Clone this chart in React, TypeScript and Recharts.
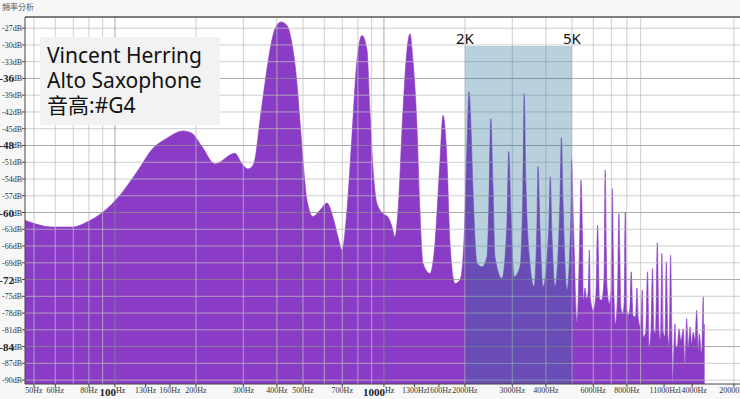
import React from 'react'
import {
  ComposedChart,
  Area,
  XAxis,
  YAxis,
  CartesianGrid,
  ReferenceLine,
  ReferenceArea,
  ReferenceDot,
} from 'recharts'

// spectrum as [Hz, dB]
const lowSpectrum: [number, number][] = [
  [46.3, -61.4], [58.8, -62.6], [69.8, -62.6], [78.7, -61.7], [90.3, -59.9],
  [104.4, -56.9], [120.8, -52.7], [138.5, -48.5], [156, -46.7], [179, -45.4],
  [193, -45.8], [210.6, -48.2], [235.4, -51.3], [279, -49.4], [296.6, -51.3],
  [312, -52.2], [323, -51.8], [331.6, -50.4],
]

const harmonicsSpectrum: [number, number][] = [
  [346, -43.5], [361, -36.9], [377, -30.9], [393.5, -27.1], [414, -25.9],
  [436, -26.5], [455, -29.7], [475, -36.9], [487, -43.5], [500, -50.6],
  [517.5, -57.8], [544.5, -60.7], [578, -59.6], [614, -58.3], [646, -60.8],
  [675, -64.4], [698, -66.7], [728.5, -59.6], [760, -46.5], [794, -32.7],
  [829, -28.3], [865, -30.9], [887, -41.7], [910, -51.8], [942, -58.4],
  [992, -60.2], [1035, -60.8], [1071, -62.5], [1099, -64.4], [1128, -59.6],
  [1177, -41.7], [1218, -30.9], [1250, -28.0], [1282, -32.7], [1327, -44.7],
  [1361, -59.6], [1397, -69.1], [1483, -70.9], [1548, -65.5], [1616, -50.6],
  [1657, -42.6], [1715, -50.6], [1760, -65.5], [1837, -72.7], [1917, -72.1],
  [1984, -65.0],
]

const bandSpectrum: [number, number][] = [
  [2036, -48], [2071, -38.4], [2107, -45], [2143, -56], [2218, -69.1],
  [2315, -69.7], [2416, -67.9], [2457, -58], [2495, -43.2], [2543, -55],
  [2586, -67.9], [2746, -71.8], [2866, -62], [2910, -49.1], [2966, -60],
  [3044, -71.5], [3204, -69.7], [3287, -55], [3322, -38.7], [3372, -55],
  [3490, -69.1], [3612, -73.3], [3706, -62], [3737, -51.8], [3802, -63],
  [3901, -73.3], [4107, -62], [4152, -53.6], [4213, -64], [4323, -73.3],
  [4512, -58], [4567, -46.6], [4630, -58], [4790, -73.9], [4957, -60],
  [4983, -50.5], [5065, -62], [5220, -79.6], [5355, -62], [5398, -54.2],
  [5470, -64], [5510, -75.7],
]

const upperSpectrum: [number, number][] = [
  [5590, -73.5], [5672, -75.5], [5745, -74], [5800, -66.7], [5860, -75.5],
  [6001, -77.5], [6140, -74.5], [6228, -62.3], [6329, -75.5], [6449, -75.7],
  [6576, -72], [6643, -52.4], [6745, -73], [6879, -76.3], [6982, -74],
  [7058, -55.7], [7162, -74.5], [7254, -79.9], [7379, -75], [7473, -60.2],
  [7604, -77], [7716, -78.1], [7820, -76], [7888, -59.9], [8003, -77.5],
  [8093, -78.4], [8213, -77], [8303, -70.6], [8431, -78.5], [8610, -78.7],
  [8721, -73.5], [8830, -79], [8987, -80.5], [9133, -73.9], [9204, -82.3],
  [9400, -81.5], [9548, -70.6], [9689, -84.1], [9833, -81], [9964, -70],
  [10090, -81], [10220, -81.7], [10379, -65.4], [10530, -81], [10665, -82.9],
  [10794, -67.3], [10940, -81.5], [11080, -82.3], [11209, -68.8], [11370, -82],
  [11495, -84], [11624, -67.6], [11765, -82], [11835, -90.6], [11970, -84],
]

const topSpectrum: [number, number][] = [
  [12073, -79.9], [12176, -84], [12313, -84.1], [12495, -80.8], [12708, -83],
  [12963, -80.8], [13154, -87], [13346, -79], [13528, -84.1], [13730, -80.5],
  [13930, -83.5], [14125, -81.4], [14330, -82.9], [14540, -77.5], [14740, -84.7],
  [14865, -81.7], [15175, -85.3], [15385, -75.1], [15440, -82], [15515, -80],
  [15530, -90.7],
]

const xLabelHz = [50, 60, 80, 100, 130, 160, 200, 300, 400, 500, 700, 1000, 1300, 1600, 2000, 3000, 4000, 6000, 8000, 11000, 14000, 20000]
const xGridHz = [50, 60, 70, 80, 90, 100, 200, 300, 400, 500, 600, 700, 800, 900, 1000, 2000, 3000, 4000, 5000, 6000, 7000, 8000, 9000, 20000]
const xMajorHz = [100, 1000]
const yTicksDb = [-27, -30, -33, -36, -39, -42, -45, -48, -51, -54, -57, -60, -63, -66, -69, -72, -75, -78, -81, -84, -87, -90]
const yMajorDb = [-36, -48, -60, -72, -84]
const xDomain: [number, number] = [46.3, 21070]
const yDomain: [number, number] = [-90.7, -25.0]
const band = { from: 2000, to: 5000, top: -30.2 }
const bandLabels = ['2K', '5K']
const noteLines = ['Vincent Herring', 'Alto Saxophone', '音高:#G4']

const spectrum = [...lowSpectrum, ...harmonicsSpectrum, ...bandSpectrum, ...upperSpectrum, ...topSpectrum].map(
  ([hz, db]) => ({ hz, db })
)

const tickFont = "'Liberation Serif', 'DejaVu Serif', serif"

function XTick({ x, y, payload }: any) {
  const v = payload.value
  if (xMajorHz.includes(v)) {
    return (
      <g fill="#222" fontFamily={tickFont}>
        <text x={x + 1} y={y + 9} textAnchor="end" fontSize={11} fontWeight="bold">{v}</text>
        <text x={x + 1} y={y + 5.5} textAnchor="start" fontSize={8}>Hz</text>
      </g>
    )
  }
  return (
    <text x={x} y={y + 5.5} textAnchor="middle" fontSize={8} fill="#333" fontFamily={tickFont}>
      {v}Hz
    </text>
  )
}

function YTick({ x, y, payload }: any) {
  const v = payload.value
  if (yMajorDb.includes(v)) {
    return (
      <g fill="#222" fontFamily={tickFont}>
        <text x={x} y={y + 3} textAnchor="end" fontSize={8}>dB</text>
        <text x={x - 8} y={y + 4} textAnchor="end" fontSize={11} fontWeight="bold">{v}</text>
      </g>
    )
  }
  return (
    <text x={x} y={y + 3} textAnchor="end" fontSize={8} fill="#333" fontFamily={tickFont}>
      {v}dB
    </text>
  )
}

export default function App() {
  return (
    <div style={{ position: 'relative', width: 740, height: 399, background: '#f7f7f7', overflow: 'hidden' }}>
      <style>{'body{margin:0}'}</style>
      <ComposedChart width={740} height={399} data={spectrum} margin={{ top: 17, right: 0, bottom: 0, left: 0 }}>
        <CartesianGrid horizontal={false} vertical={false} fill="#ffffff" />
        <XAxis
          dataKey="hz"
          type="number"
          scale="log"
          domain={xDomain}
          allowDataOverflow
          ticks={xLabelHz}
          interval={0}
          height={15}
          tickSize={3}
          tickMargin={0}
          tick={<XTick />}
          stroke="#444"
        />
        <YAxis
          type="number"
          domain={yDomain}
          allowDataOverflow
          ticks={yTicksDb}
          interval={0}
          width={25}
          tickSize={3}
          tickMargin={0}
          tick={<YTick />}
          stroke="#444"
        />
        <Area
          dataKey="db"
          type="monotone"
          fill="#8a3cc6"
          fillOpacity={1}
          stroke="#8a3cc6"
          strokeWidth={0.6}
          baseValue="dataMin"
          isAnimationActive={false}
          dot={false}
          activeDot={false}
        />
        {yTicksDb.map((v) => (
          <ReferenceLine
            key={`h${v}`}
            y={v}
            stroke={yMajorDb.includes(v) ? '#8c8c8c' : '#bdbdbd'}
            strokeOpacity={0.75}
            strokeWidth={1}
            zIndex={150}
          />
        ))}
        {xGridHz.map((v) => (
          <ReferenceLine
            key={`v${v}`}
            x={v}
            stroke={xMajorHz.includes(v) ? '#8c8c8c' : '#bdbdbd'}
            strokeOpacity={0.75}
            strokeWidth={1}
            zIndex={150}
          />
        ))}
        <ReferenceLine y={yDomain[1]} stroke="#555" strokeWidth={1.5} zIndex={160} />
        <ReferenceArea
          x1={band.from}
          x2={band.to}
          y1={yDomain[0]}
          y2={band.top}
          fill="#246f92"
          fillOpacity={0.32}
          stroke="none"
          zIndex={170}
        />
        {[band.from, band.to].map((hz, i) => (
          <ReferenceDot
            key={hz}
            x={hz}
            y={band.top}
            r={0}
            fill="none"
            stroke="none"
            zIndex={180}
            label={{
              value: bandLabels[i],
              position: 'top',
              offset: 2,
              fill: '#111',
              fontSize: 15,
              fontFamily: "'Noto Sans', sans-serif",
            }}
          />
        ))}
      </ComposedChart>
      <svg width={740} height={399} style={{ position: 'absolute', left: 0, top: 0, pointerEvents: 'none' }}>
        <text x={2} y={10} fontSize={8} fill="#555" fontFamily="'Noto Sans CJK TC', sans-serif">頻率分析</text>
        <rect x={40} y={37} width={180} height={88} fill="#f2f2f2" />
        {noteLines.map((t, i) => (
          <text
            key={t}
            x={47}
            y={63 + i * 25}
            fontSize={21}
            fill="#111"
            fontFamily="'Noto Sans', 'Noto Sans CJK TC', sans-serif"
          >
            {t}
          </text>
        ))}
      </svg>
    </div>
  )
}
